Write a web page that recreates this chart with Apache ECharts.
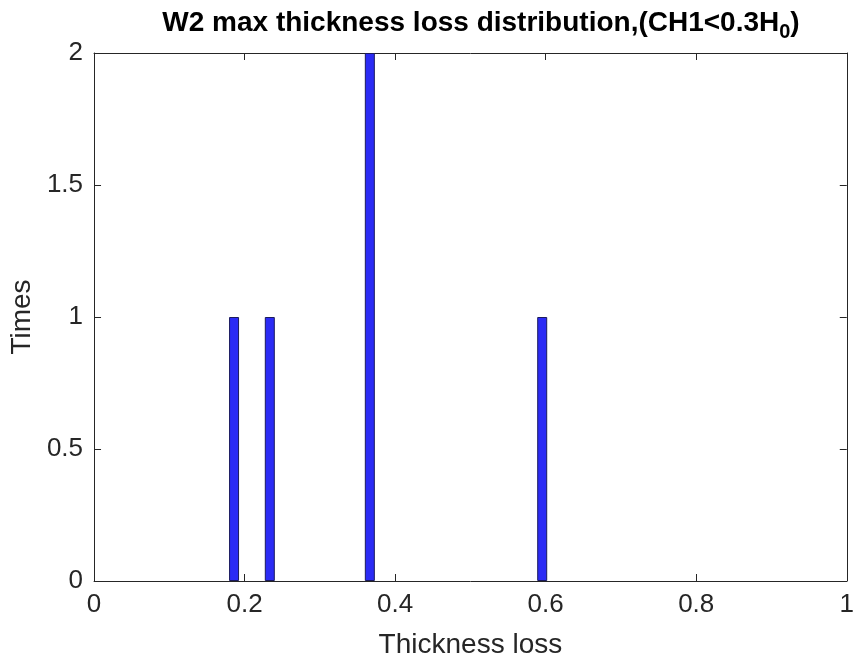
<!DOCTYPE html>
<html><head><meta charset="utf-8">
<script src="https://cdn.jsdelivr.net/npm/echarts@6/dist/echarts.min.js"></script>
<style>html,body{margin:0;padding:0;background:#fff}#c{width:857px;height:664px}</style>
</head><body><div id="c"></div>
<script>
var thicknessLoss = [0.186, 0.2335, 0.3664, 0.5954];
var times = [1, 1, 2, 1];
var xTicks = [0, 0.2, 0.4, 0.6, 0.8, 1];
var yTicks = [0, 0.5, 1, 1.5, 2];

var font = 'Liberation Sans, Arial, Helvetica, sans-serif';
var chart = echarts.init(document.getElementById('c'));
var data = thicknessLoss.map(function (x, i) { return [x, times[i]]; });
function axisCommon() {
  return {
    axisLine: { show: true, onZero: false, lineStyle: { color: '#262626', width: 1 } },
    axisTick: { show: true, inside: true, length: 7, lineStyle: { color: '#262626' } },
    splitLine: { show: false }
  };
}
chart.setOption({
  animation: false,
  backgroundColor: '#fff',
  title: {
    text: '{t|W2 max thickness loss distribution,(CH1<0.3H}{s|0}{t|)}',
    left: 476, textAlign: 'center', top: 0,
    textStyle: { rich: {
      t: { fontFamily: font, fontSize: 28, fontWeight: 'bold', color: '#000' },
      s: { fontFamily: font, fontSize: 20, fontWeight: 'bold', color: '#000', padding: [17, 0, 0, 0] }
    } }
  },
  grid: { left: 93, top: 53, right: 6, bottom: 82, containLabel: false },
  xAxis: [
    Object.assign(axisCommon(), {
      type: 'value', min: 0, max: 1, interval: 0.2, position: 'bottom',
      name: 'Thickness loss', nameLocation: 'middle', nameGap: 50,
      nameTextStyle: { fontFamily: font, fontSize: 28, color: '#262626' },
      axisLabel: { fontFamily: font, fontSize: 26, color: '#262626', margin: 11,
        formatter: function (v) { return String(+v.toFixed(1)); } }
    }),
    Object.assign(axisCommon(), {
      type: 'value', min: 0, max: 1, interval: 0.2, position: 'top',
      axisLabel: { show: false }
    })
  ],
  yAxis: [
    Object.assign(axisCommon(), {
      type: 'value', min: 0, max: 2, interval: 0.5, position: 'left',
      name: 'Times', nameLocation: 'middle', nameGap: 56,
      nameTextStyle: { fontFamily: font, fontSize: 28, color: '#262626' },
      axisLabel: { fontFamily: font, fontSize: 26, color: '#262626', margin: 11,
        formatter: function (v) { return String(v); } }
    }),
    Object.assign(axisCommon(), {
      type: 'value', min: 0, max: 2, interval: 0.5, position: 'right',
      axisLabel: { show: false }
    })
  ],
  series: [{
    type: 'bar', xAxisIndex: 0, yAxisIndex: 0,
    data: data, barWidth: 10,
    itemStyle: { color: '#2b2bf5', borderColor: '#1a1a5e', borderWidth: 1 }
  }]
});
</script></body></html>
